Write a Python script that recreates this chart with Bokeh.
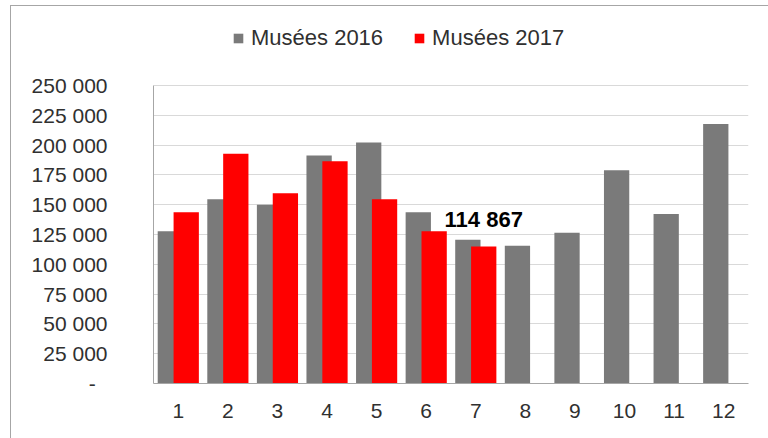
from bokeh.plotting import figure
from bokeh.models import (ColumnDataSource, FactorRange, FixedTicker, Legend, LegendItem, Range1d,
                          CustomJSTickFormatter)
from bokeh.transform import dodge
from bokeh.core.properties import value
from bokeh.embed import file_html
from bokeh.resources import INLINE

months = [str(i) for i in range(1, 13)]
musees_2016 = [127800, 154600, 149900, 191300, 202200, 143700, 120500, 115500, 126400, 179000, 142300, 217800]
months_2017 = [str(i) for i in range(1, 8)]
musees_2017 = [143700, 192700, 159700, 186500, 154600, 127800, 114867]
y_ticks = [0, 25000, 50000, 75000, 100000, 125000, 150000, 175000, 200000, 225000, 250000]
label_month = ["7"]
label_value = [114867]

FONT = "Liberation Sans"
GRAY = "#7a7a7a"
RED = "#ff0000"

src16 = ColumnDataSource(dict(month=months, v=musees_2016))
src17 = ColumnDataSource(dict(month=months_2017, v=musees_2017))
srclab = ColumnDataSource(dict(month=label_month, v=label_value,
                               t=[f"{v:,}".replace(",", " ") for v in label_value]))

# frame: top at 20px, 250 000 at 85px, 0 at 383px -> extend range above the top tick
y_max = y_ticks[-1]
y_top = y_max * (383 - 20) / (383 - 85)

p = figure(width=768, height=438, x_range=FactorRange(*months), y_range=Range1d(0, y_top),
           output_backend="svg", toolbar_location=None,
           min_border_left=153, min_border_right=20, min_border_top=20, min_border_bottom=55)
p.x_range.range_padding = 0
p.outline_line_color = None
p.background_fill_color = "white"
p.border_fill_alpha = 0
p.styles = {"background": "linear-gradient(#a6a6a6,#a6a6a6) 10px 5px / 1px 100% no-repeat, "
                          "linear-gradient(#a6a6a6,#a6a6a6) 10px 5px / 100% 1px no-repeat, white"}

r16 = p.vbar(x=dodge("month", -0.16, range=p.x_range), top="v", width=0.51, source=src16,
             fill_color=GRAY, line_color=None)
r17 = p.vbar(x=dodge("month", 0.16, range=p.x_range), top="v", width=0.51, source=src17,
             fill_color=RED, line_color=None)

p.text(x=dodge("month", 0.16, range=p.x_range), y="v", text="t", source=srclab,
       text_font=value(FONT), text_font_size="22px", text_font_style="bold",
       text_color="#000000", text_align="center", text_baseline="bottom", y_offset=-15)

p.yaxis.ticker = FixedTicker(ticks=y_ticks)
p.yaxis.bounds = (0, y_max)
p.yaxis.formatter = CustomJSTickFormatter(code=r"""
if (tick == 0) { return "-\u00a0\u00a0"; }
return Math.round(tick).toString().replace(/\B(?=(\d{3})+(?!\d))/g, " ");
""")
p.yaxis.major_label_text_font = FONT
p.yaxis.major_label_text_font_size = "21px"
p.yaxis.major_label_text_color = "#303030"
p.yaxis.major_label_standoff = 40
p.yaxis.major_tick_line_color = None
p.yaxis.minor_tick_line_color = None
p.yaxis.axis_line_color = "#a6a6a6"

p.xaxis.major_label_text_font = FONT
p.xaxis.major_label_text_font_size = "21px"
p.xaxis.major_label_text_color = "#303030"
p.xaxis.major_label_standoff = 14
p.xaxis.major_tick_line_color = None
p.xaxis.axis_line_color = "#a6a6a6"

p.xgrid.grid_line_color = None
p.ygrid.grid_line_color = "#d9d9d9"

legend = Legend(items=[LegendItem(label="Musées 2016", renderers=[r16]),
                       LegendItem(label="Musées 2017", renderers=[r17])],
                orientation="horizontal", location=(79, 332), padding=0, margin=0,
                glyph_width=12, glyph_height=12, label_standoff=7, spacing=30,
                label_text_font=FONT, label_text_font_size="22px", label_text_color="#303030",
                border_line_color=None, background_fill_alpha=0)
p.add_layout(legend, "center")

open("out.html", "w").write(file_html(p, INLINE))
